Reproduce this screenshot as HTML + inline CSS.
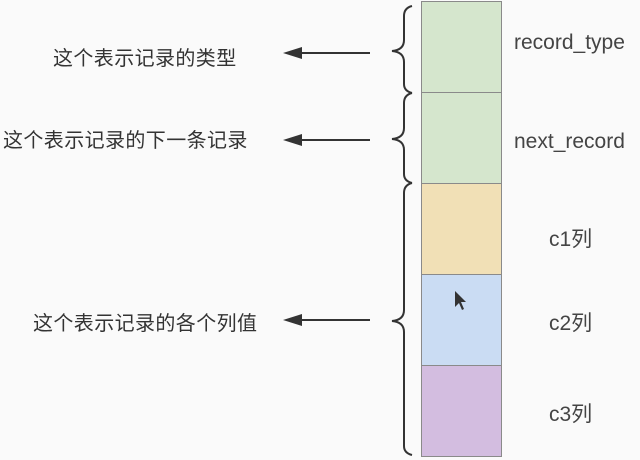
<!DOCTYPE html>
<html><head><meta charset="utf-8"><style>
body{margin:0;width:640px;height:460px;background:#fafafa;overflow:hidden;position:relative;font-family:"Liberation Sans","Noto Sans CJK SC",sans-serif;color:#333}
.t{position:absolute;font-size:20px;line-height:20px;white-space:nowrap;letter-spacing:0.4px}
.b{position:absolute;left:421px;width:79px;border:1px solid #8a8a8a}
.l{position:absolute;font-size:21px;line-height:20px;color:#444;white-space:nowrap}
</style></head><body>
<div class="b" style="top:1px;height:90px;background:#d5e6cd"></div>
<div class="b" style="top:92px;height:90px;background:#d5e6cd"></div>
<div class="b" style="top:183px;height:90px;background:#f1e0b6"></div>
<div class="b" style="top:274px;height:90px;background:#cadcf3"></div>
<div class="b" style="top:365px;height:90px;background:#d3bde0"></div>
<div class="t" style="left:53px;top:49px">这个表示记录的类型</div>
<div class="t" style="left:3px;top:131px">这个表示记录的下一条记录</div>
<div class="t" style="left:33px;top:314px">这个表示记录的各个列值</div>
<div class="l" style="left:514px;top:33px">record_type</div>
<div class="l" style="left:514px;top:132px">next_record</div>
<div class="l" style="left:549px;top:230px">c1列</div>
<div class="l" style="left:549px;top:314px">c2列</div>
<div class="l" style="left:549px;top:405px">c3列</div>
<svg width="640" height="460" style="position:absolute;left:0;top:0">
<g stroke="#333" stroke-width="2" fill="none">
<line x1="300" y1="53" x2="370" y2="53"/>
<line x1="300" y1="140" x2="370" y2="140"/>
<line x1="300" y1="320" x2="370" y2="320"/>
<path d="M412,6 Q404,8 404,16 L404,40 Q404,50 392,51 Q404,52 404,62 L404,84 Q404,91 412,93"/>
<path d="M412,93 Q404,95 404,103 L404,128 Q404,138 392,139 Q404,140 404,150 L404,174 Q404,181 412,183"/>
<path d="M412,183 Q404,185 404,193 L404,310 Q404,320 392,321 Q404,322 404,332 L404,446 Q404,453 412,455"/>
</g>
<g fill="#333">
<polygon points="283,53 302,47 302,59"/>
<polygon points="283,140 302,134 302,146"/>
<polygon points="283,320 302,314 302,326"/>
<polygon points="455,291 455,307 459,303 462,310 464,309 461,302 466,302"/>
</g>
</svg>
</body></html>
